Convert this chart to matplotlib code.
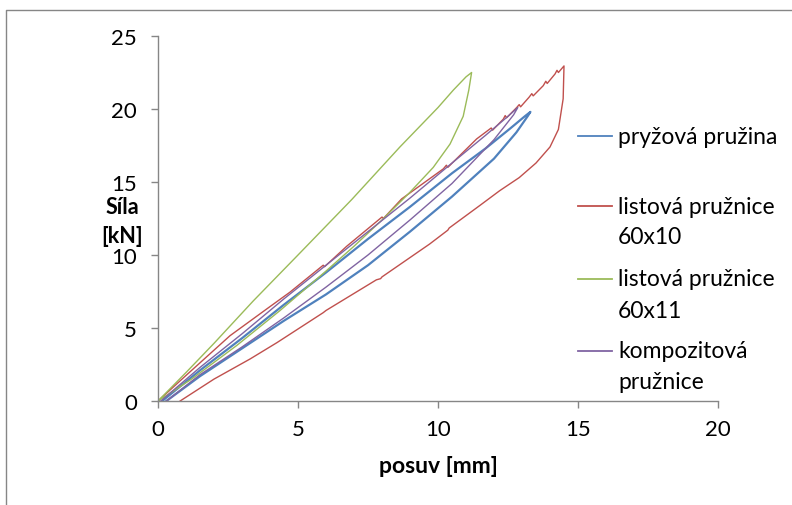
import matplotlib
matplotlib.use("Agg")
import matplotlib.pyplot as plt
from matplotlib.lines import Line2D

plt.rcParams['font.family'] = ['Lato', 'DejaVu Sans']

# ---------------- data ----------------
series_names = ["pryžová pružina", "listová pružnice\n60x10",
                "listová pružnice\n60x11", "kompozitová\npružnice"]
series_colors = ["#4F81BD", "#C0504D", "#9BBB59", "#8064A2"]

# pryžová pružina (loading + unloading loop)
blue_x = [0.15, 1.5, 3.0, 4.5, 6.0, 7.5, 9.0, 10.5, 11.7, 12.6, 13.1, 13.3,
          13.2, 12.8, 12.0, 10.5, 9.0, 7.5, 6.0, 4.5, 3.0, 1.5, 0.3]
blue_y = [0.0, 2.1, 4.3, 6.6, 8.8, 11.1, 13.3, 15.6, 17.3, 18.7, 19.5, 19.8,
          19.5, 18.4, 16.6, 14.0, 11.6, 9.3, 7.3, 5.5, 3.6, 1.7, 0.0]

# listová pružnice 60x10
red_x = [0.0, 1.0, 2.57, 3.88, 4.71, 5.9, 5.95, 6.74, 8.0, 8.05, 8.7, 10.19, 10.3, 10.35,
         11.38, 11.9, 11.95, 12.33, 12.4, 12.45, 12.81, 12.9, 12.95, 13.25, 13.35, 13.4,
         13.76, 13.85, 13.9, 14.18, 14.25, 14.3, 14.5,
         14.47, 14.3, 14.0, 13.5, 12.9, 12.2, 11.5, 10.4, 10.35, 9.7, 8.0, 7.95, 7.8,
         6.0, 5.9, 4.25, 3.29, 2.0, 0.79]
red_y = [0.0, 1.75, 4.47, 6.3, 7.45, 9.3, 9.2, 10.6, 12.6, 12.5, 13.84, 15.9, 16.15, 16.0,
         17.95, 18.7, 18.55, 19.3, 19.55, 19.4, 20.1, 20.3, 20.15, 20.8, 21.05, 20.9,
         21.6, 21.9, 21.75, 22.4, 22.65, 22.5, 22.95,
         20.7, 18.6, 17.4, 16.3, 15.3, 14.4, 13.4, 11.85, 11.7, 10.75, 8.5, 8.38, 8.3,
         6.2, 6.05, 4.0, 2.88, 1.5, 0.0]

# listová pružnice 60x11
green_x = [0.0, 1.0, 2.0, 3.4, 5.0, 6.92, 8.64, 10.0, 10.55, 11.0, 11.2,
           11.1, 10.9, 10.43, 9.83, 9.0, 8.0, 7.0, 6.0, 4.36, 2.81, 1.2, 0.0]
green_y = [0.0, 1.95, 3.95, 6.85, 10.0, 13.8, 17.4, 20.1, 21.3, 22.2, 22.5,
           21.3, 19.5, 17.6, 16.0, 14.3, 12.4, 10.6, 8.9, 6.2, 3.8, 1.5, 0.0]

# kompozitová pružnice
purple_x = [0.1, 1.5, 3.0, 4.5, 6.0, 7.5, 9.0, 10.5, 11.7, 12.5, 12.85,
            12.7, 12.0, 10.5, 9.0, 7.5, 6.0, 4.5, 3.0, 1.5, 0.3]
purple_y = [0.0, 2.3, 4.6, 7.0, 9.3, 11.6, 13.9, 16.3, 18.2, 19.5, 20.1,
            19.6, 17.9, 14.9, 12.4, 10.0, 7.8, 5.7, 3.7, 1.8, 0.0]

x_ticks = [0, 5, 10, 15, 20]
y_ticks = [0, 5, 10, 15, 20, 25]

# ---------------- figure ----------------
W, H = 792, 506
FS = 16.5
fig = plt.figure(figsize=(W / 100, H / 100), dpi=100)
ax = fig.add_axes([158 / W, 1 - 402 / H, (718 - 158) / W, (402 - 37) / H])

series = [(blue_x, blue_y), (red_x, red_y), (green_x, green_y), (purple_x, purple_y)]
widths = [1.6, 1.0, 1.0, 1.0]
for (xs, ys), c, lw in zip(series, series_colors, widths):
    ax.plot(xs, ys, color=c, lw=lw, solid_joinstyle='round')

ax.set_xlim(0, 20)
ax.set_ylim(0, 25)
ax.set_xticks(x_ticks)
ax.set_yticks(y_ticks)
ax.set_xticklabels([str(v) for v in x_ticks])
ax.set_yticklabels([str(v) for v in y_ticks])
for s in ['top', 'right']:
    ax.spines[s].set_visible(False)
for s in ['left', 'bottom']:
    ax.spines[s].set_color('#868686')
    ax.spines[s].set_linewidth(1.0)
ax.tick_params(axis='both', direction='out', length=5, width=1.0, color='#868686',
               labelsize=FS - 0.5, labelcolor='#000000')
ax.tick_params(axis='y', pad=10)
ax.tick_params(axis='x', pad=8)

# axis titles
fig.text(122 / W, 1 - 207 / H, "Síla", ha='center', va='center',
         fontsize=FS - 1, fontweight='bold')
fig.text(122 / W, 1 - 237 / H, "[kN]", ha='center', va='center',
         fontsize=FS - 1, fontweight='bold')
fig.text(438 / W, 1 - 467 / H, "posuv [mm]", ha='center', va='center',
         fontsize=FS, fontweight='bold')

# legend (drawn manually in Excel style)
leg_y = [137, 207, 280, 352]
line_gap = 31
for name, c, yy in zip(series_names, series_colors, leg_y):
    fig.add_artist(Line2D([578 / W, 612 / W], [1 - yy / H, 1 - yy / H],
                          color=c, lw=1.3, transform=fig.transFigure))
    for k, part in enumerate(name.split("\n")):
        fig.text(618 / W, 1 - (yy + k * line_gap) / H, part, ha='left', va='center',
                 fontsize=FS)

# outer chart frame (only top and left edges visible)
fig.add_artist(Line2D([6 / W, 6 / W, 1.0], [0.0, 1 - 11 / H, 1 - 11 / H],
                      color='#868686', lw=1.0, transform=fig.transFigure))

fig.savefig("out.png", dpi=100)
